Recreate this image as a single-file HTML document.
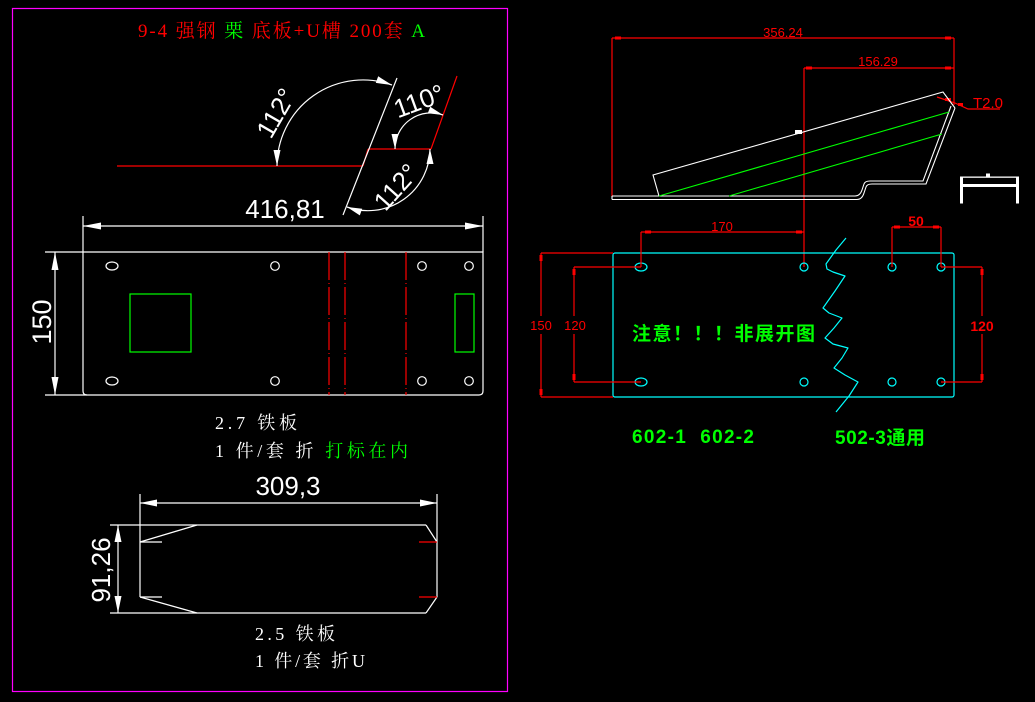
<!DOCTYPE html>
<html><head><meta charset="utf-8"><style>
html,body{margin:0;padding:0;background:#000;}
svg{display:block;}
.s{font-family:"Liberation Sans","Noto Sans CJK SC",sans-serif;}
.sr{font-family:"Liberation Serif","Noto Serif CJK SC",serif;}
.b{font-family:"Liberation Sans","Noto Sans CJK SC",sans-serif;font-weight:bold;}
</style></head><body>
<svg width="1035" height="702" viewBox="0 0 1035 702" xmlns="http://www.w3.org/2000/svg">
<rect width="1035" height="702" fill="#000"/>
<!-- magenta frame -->
<rect x="12.5" y="8.5" width="495" height="683" fill="none" stroke="#ff00ff" stroke-width="1.2"/>

<!-- title -->
<text class="sr" x="138" y="37" font-size="19" fill="#ff0000" textLength="287" lengthAdjust="spacing" style="white-space:pre">9-4 强钢 <tspan fill="#00ff00">栗</tspan> 底板+U槽 200套 <tspan fill="#00ff00">A</tspan></text>

<!-- angle diagram -->
<g fill="none" stroke-width="1.2">
<line x1="117" y1="166" x2="363" y2="166" stroke="#ff0000"/>
<line x1="363" y1="166" x2="368" y2="149" stroke="#ff0000"/>
<line x1="368" y1="149" x2="431" y2="149" stroke="#ff0000"/>
<line x1="431" y1="149" x2="457" y2="76" stroke="#ff0000"/>
<line x1="343" y1="215" x2="397" y2="78" stroke="#fff"/>
<path d="M277,166 A86,86 0 0 1 392,85" stroke="#fff"/>
<path d="M395,149 A36,36 0 0 1 443,115" stroke="#fff"/>
<path d="M430,149 A62,62 0 0 1 347,207" stroke="#fff"/>
</g>
<g fill="#fff">
<polygon points="277,166 273.5,150 280.5,150"/>
<polygon points="392,85 375.8,82.9 378.2,76.3"/>
<polygon points="395,149 391.5,134 398.5,134"/>
<polygon points="443,115 427.8,113.3 430.2,106.7"/>
<polygon points="430,149 426.5,164 433.5,164"/>
<polygon points="347,207 362.2,208.8 359.8,215.4"/>
</g>
<g class="s" fill="#fff" font-size="26" text-anchor="middle">
<text transform="translate(276,113) rotate(-60)" x="0" y="9">112°</text>
<text transform="translate(419,101) rotate(-20)" x="0" y="9">110°</text>
<text transform="translate(396,187) rotate(-48)" x="0" y="9">112°</text>
</g>

<!-- dimension 416,81 -->
<g stroke="#fff" stroke-width="1.2" fill="none">
<line x1="83" y1="226" x2="483" y2="226"/>
<line x1="83" y1="216" x2="83" y2="252"/>
<line x1="483" y1="216" x2="483" y2="252"/>
<!-- plate -->
<path d="M45,252 H483 V391 Q483,395 479,395 H87 Q83,395 83,391 V252"/>
<line x1="45" y1="395" x2="87" y2="395"/>
<line x1="55" y1="252" x2="55" y2="395"/>
<ellipse cx="112" cy="266" rx="6" ry="4"/>
<ellipse cx="112" cy="381" rx="6" ry="4"/>
<circle cx="275" cy="266" r="4.3"/>
<circle cx="275" cy="381" r="4.3"/>
<circle cx="422" cy="266" r="4.3"/>
<circle cx="422" cy="381" r="4.3"/>
<circle cx="469" cy="266" r="4.3"/>
<circle cx="469" cy="381" r="4.3"/>
</g>
<g fill="#fff">
<polygon points="83,226 101,222.5 101,229.5"/>
<polygon points="483,226 465,222.5 465,229.5"/>
<polygon points="55,252 51.5,270 58.5,270"/>
<polygon points="55,395 51.5,377 58.5,377"/>
</g>
<text class="s" x="285" y="218" font-size="26" fill="#fff" text-anchor="middle">416,81</text>
<text class="s" transform="translate(51,322) rotate(-90)" x="0" y="0" font-size="27" fill="#fff" text-anchor="middle">150</text>
<g stroke="#00ff00" stroke-width="1.2" fill="none">
<rect x="130" y="294" width="61" height="58"/>
<rect x="455" y="294" width="19" height="58"/>
</g>
<g stroke="#ff0000" stroke-width="1.2" stroke-dasharray="28,3,1,3">
<line x1="329" y1="252" x2="329" y2="395"/>
<line x1="345" y1="252" x2="345" y2="395"/>
<line x1="406" y1="252" x2="406" y2="395"/>
</g>
<text class="sr" x="215" y="429" font-size="18" fill="#fff" textLength="82" lengthAdjust="spacing" style="white-space:pre">2.7 铁板</text>
<text class="sr" x="215" y="457" font-size="18" fill="#fff" textLength="193" lengthAdjust="spacing" style="white-space:pre">1 件/套 折 <tspan fill="#00ff00">打标在内</tspan></text>

<!-- U part -->
<g stroke="#fff" stroke-width="1.2" fill="none">
<line x1="140" y1="503" x2="437" y2="503"/>
<line x1="140" y1="494" x2="140" y2="597"/>
<line x1="437" y1="494" x2="437" y2="597"/>
<line x1="110" y1="525" x2="426" y2="525"/>
<line x1="110" y1="613" x2="426" y2="613"/>
<line x1="426" y1="525" x2="437" y2="542"/>
<line x1="437" y1="597" x2="426" y2="613"/>
<line x1="140" y1="542" x2="197" y2="525"/>
<line x1="140" y1="597" x2="197" y2="613"/>
<line x1="140" y1="542" x2="162" y2="542"/>
<line x1="140" y1="597" x2="162" y2="597"/>
<line x1="118" y1="525" x2="118" y2="613"/>
</g>
<g stroke="#ff0000" stroke-width="1.2">
<line x1="419" y1="542" x2="437" y2="542"/>
<line x1="419" y1="597" x2="437" y2="597"/>
</g>
<g fill="#fff">
<polygon points="140,503 157,499.5 157,506.5"/>
<polygon points="437,503 420,499.5 420,506.5"/>
<polygon points="118,525 114.5,542 121.5,542"/>
<polygon points="118,613 114.5,596 121.5,596"/>
</g>
<text class="s" x="288" y="495" font-size="26" fill="#fff" text-anchor="middle">309,3</text>
<text class="s" transform="translate(110,570) rotate(-90)" x="0" y="0" font-size="26" fill="#fff" text-anchor="middle">91,26</text>
<text class="sr" x="255" y="640" font-size="18" fill="#fff" textLength="80" lengthAdjust="spacing" style="white-space:pre">2.5 铁板</text>
<text class="sr" x="255" y="667" font-size="18" fill="#fff" textLength="110" lengthAdjust="spacing" style="white-space:pre">1 件/套 折U</text>

<!-- right: profile -->
<g stroke="#ff0000" stroke-width="1.2" fill="none">
<line x1="612" y1="38" x2="954" y2="38"/>
<line x1="612" y1="38" x2="612" y2="197"/>
<line x1="954" y1="38" x2="954" y2="105"/>
<line x1="804" y1="68" x2="954" y2="68"/>
<line x1="804" y1="68" x2="804" y2="267"/>
<path d="M937,97 L955,103 L968,109 L1000,109"/>
</g>
<g fill="#ff0000">
<rect x="615" y="36.5" width="6" height="3"/>
<rect x="945" y="36.5" width="6" height="3"/>
<rect x="806" y="66.5" width="6" height="3"/>
<rect x="945" y="66.5" width="6" height="3"/>
<rect x="945" y="98" width="6" height="3"/>
<rect x="958" y="103" width="5" height="3"/>
</g>
<g class="s" fill="#ff0000" font-size="13" text-anchor="middle">
<text x="783" y="37">356.24</text>
<text x="878" y="66">156.29</text>
</g>
<text class="s" x="973" y="108" font-size="15" fill="#ff0000">T2.0</text>
<g stroke="#fff" stroke-width="1.1" fill="none">
<path d="M612,196 H855 Q860,196 862,190 L864,184 Q865,181 870,181 H923 L951,106"/>
<path d="M612,199.5 H857 Q862,199.5 864,193 L866,187 Q867,184 872,184 H926 L955,108"/>
<line x1="612" y1="196" x2="612" y2="199.5"/>
<path d="M659,196 L653,175 L943,92 L955,108"/>
</g>
<rect x="795" y="130" width="7" height="4" fill="#fff"/>
<g stroke="#00ff00" stroke-width="1.1">
<line x1="659" y1="196" x2="949" y2="112"/>
<line x1="729" y1="196" x2="942" y2="134"/>
</g>
<!-- U icon -->
<g fill="#fff">
<rect x="961" y="176.5" width="57" height="1.3"/>
<rect x="961" y="184" width="57" height="3"/>
<rect x="960" y="176.5" width="3" height="27"/>
<rect x="1016" y="176.5" width="3" height="27"/>
<rect x="986" y="173.5" width="4" height="4"/>
</g>

<!-- right: flat plate -->
<rect x="613" y="253" width="341" height="144" rx="2" fill="none" stroke="#00ffff" stroke-width="1.2"/>
<g stroke="#00ffff" stroke-width="1.2" fill="none">
<ellipse cx="641" cy="267" rx="6" ry="4"/>
<ellipse cx="641" cy="382" rx="6" ry="4"/>
<circle cx="804" cy="267" r="4"/>
<circle cx="804" cy="382" r="4"/>
<circle cx="892" cy="267" r="4"/>
<circle cx="892" cy="382" r="4"/>
<circle cx="941" cy="267" r="4"/>
<circle cx="941" cy="382" r="4"/>
<polyline stroke-linejoin="round" points="846,238 836,250 826,264 827,269 833,272 845,276 835,291 823,308 829,313 842,318 834,328 825,338 833,344 848,348 842,358 834,368 845,375 858,382 849,396 836,412"/>
</g>
<g stroke="#ff0000" stroke-width="1.2" fill="none">
<line x1="641" y1="232" x2="804" y2="232"/>
<line x1="641" y1="232" x2="641" y2="267"/>
<line x1="892" y1="227" x2="941" y2="227"/>
<line x1="892" y1="227" x2="892" y2="267"/>
<line x1="941" y1="227" x2="941" y2="267"/>
<line x1="541" y1="253" x2="613" y2="253"/>
<line x1="541" y1="397" x2="613" y2="397"/>
<line x1="541" y1="253" x2="541" y2="397"/>
<line x1="574" y1="267" x2="641" y2="267"/>
<line x1="574" y1="382" x2="641" y2="382"/>
<line x1="574" y1="267" x2="574" y2="382"/>
<line x1="941" y1="267" x2="982" y2="267"/>
<line x1="941" y1="382" x2="982" y2="382"/>
<line x1="982" y1="267" x2="982" y2="382"/>
</g>
<g fill="#ff0000">
<rect x="645" y="230.5" width="6" height="3"/>
<rect x="796" y="230.5" width="6" height="3"/>
<rect x="894" y="225.5" width="6" height="3"/>
<rect x="933" y="225.5" width="6" height="3"/>
<rect x="539.5" y="255" width="3" height="6"/>
<rect x="539.5" y="389" width="3" height="6"/>
<rect x="572.5" y="269" width="3" height="6"/>
<rect x="572.5" y="374" width="3" height="6"/>
<rect x="980.5" y="269" width="3" height="6"/>
<rect x="980.5" y="374" width="3" height="6"/>
</g>
<g fill="#000">
<rect x="530" y="316" width="23" height="18"/>
<rect x="563" y="316" width="23" height="18"/>
<rect x="970" y="316" width="25" height="18"/>
</g>
<g class="s" fill="#ff0000" font-size="13" text-anchor="middle">
<text x="722" y="231">170</text>
<text x="541" y="330">150</text>
<text x="575" y="330">120</text>
</g>
<g class="b" fill="#ff0000" font-size="14" text-anchor="middle">
<text x="916" y="226">50</text>
<text x="982" y="331">120</text>
</g>
<g class="b" fill="#00ff00" font-size="19">
<text x="632" y="340" textLength="183" lengthAdjust="spacing">注意！！！非展开图</text>
<text x="632" y="443" textLength="122" lengthAdjust="spacing" style="white-space:pre">602-1  602-2</text>
<text x="835" y="444" textLength="90" lengthAdjust="spacing">502-3通用</text>
</g>
</svg>
</body></html>
